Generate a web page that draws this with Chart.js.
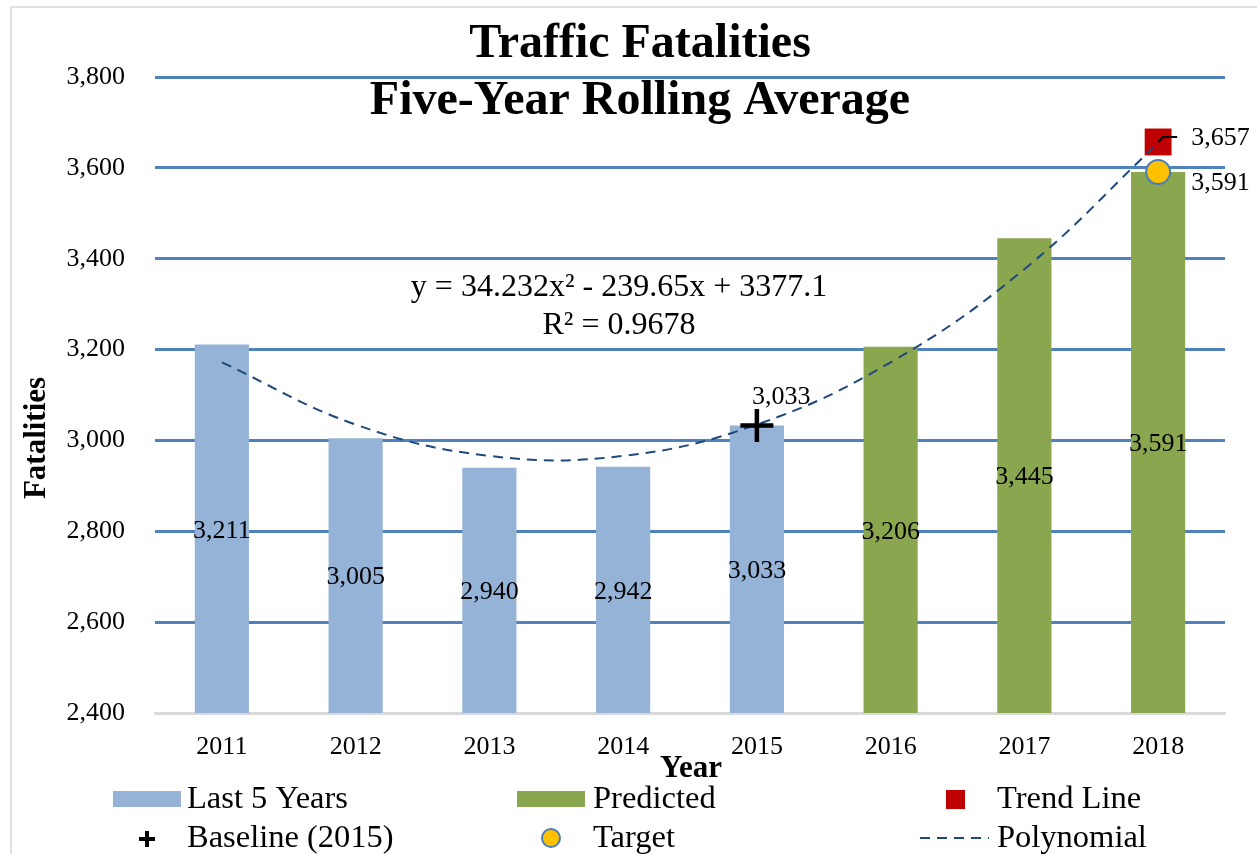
<!DOCTYPE html>
<html>
<head>
<meta charset="utf-8">
<script src="https://cdn.jsdelivr.net/npm/chart.js"></script>
<style>
  body { margin: 0; background: #fff; }
  canvas { display: block; }
</style>
</head>
<body>
<canvas id="chart" width="1257" height="854"></canvas>
<script>
// values
const years = ['2011', '2012', '2013', '2014', '2015', '2016', '2017', '2018'];
const last5Years = [3211, 3005, 2940, 2942, 3033, null, null, null];
const predicted = [null, null, null, null, null, 3206, 3445, 3591];
const polynomial = [3172, 3035, 2966, 2966, 3035, 3172, 3377, 3655];
const baseline = [null, null, null, null, 3033, null, null, null];
const target = [null, null, null, null, null, null, null, 3591];
const trendLine = [null, null, null, null, null, null, null, 3657];
const yTicks = [2400, 2600, 2800, 3000, 3200, 3400, 3600, 3800];
const titleLines = ['Traffic Fatalities', 'Five-Year Rolling Average'];
const equationLines = ['y = 34.232x² - 239.65x + 3377.1', 'R² = 0.9678'];

const SERIF = '"Liberation Serif", "Times New Roman", serif';
const fmt = v => v.toLocaleString('en-US');

// white background + thin outer frame
const framePlugin = {
  id: 'frame',
  beforeDraw(chart) {
    const ctx = chart.ctx;
    ctx.save();
    ctx.fillStyle = '#fff';
    ctx.fillRect(0, 0, chart.width, chart.height);
    ctx.strokeStyle = '#d9d9d9';
    ctx.lineWidth = 1.5;
    ctx.strokeRect(11, 7, chart.width + 20, chart.height + 20);
    ctx.restore();
  }
};

// value labels in the middle of each bar, plus the marker labels
const labelPlugin = {
  id: 'labels',
  afterDatasetsDraw(chart) {
    const ctx = chart.ctx;
    const xs = chart.scales.x, ys = chart.scales.y;
    const basePx = ys.getPixelForValue(yTicks[0]);
    ctx.save();
    ctx.fillStyle = '#000';
    ctx.font = '26px ' + SERIF;
    ctx.textAlign = 'center';
    ctx.textBaseline = 'middle';
    [last5Years, predicted].forEach(arr => {
      arr.forEach((v, j) => {
        if (v == null) return;
        const x = xs.getPixelForValue(j);
        const y = (ys.getPixelForValue(v) + basePx) / 2;
        ctx.fillText(fmt(v), x, y + 2);
      });
    });

    // baseline label above the cross
    const bIdx = baseline.findIndex(v => v != null);
    const bx = xs.getPixelForValue(bIdx), by = ys.getPixelForValue(baseline[bIdx]);
    ctx.textAlign = 'left';
    ctx.fillText(fmt(baseline[bIdx]), bx - 5, by - 28);

    // trend line label with its leader line
    const tIdx = trendLine.findIndex(v => v != null);
    const tx = xs.getPixelForValue(tIdx), ty = ys.getPixelForValue(trendLine[tIdx]);
    ctx.strokeStyle = '#000';
    ctx.lineWidth = 2;
    ctx.beginPath();
    ctx.moveTo(tx, ty);
    ctx.lineTo(tx + 5, ty - 5);
    ctx.lineTo(tx + 19, ty - 5);
    ctx.stroke();
    ctx.fillText(fmt(trendLine[tIdx]), tx + 33, ty - 4);

    const gIdx = target.findIndex(v => v != null);
    const gx = xs.getPixelForValue(gIdx), gy = ys.getPixelForValue(target[gIdx]);
    ctx.fillText(fmt(target[gIdx]), gx + 33, gy + 11);
    ctx.restore();
  }
};

// title, equation, axis titles and legend
const textPlugin = {
  id: 'texts',
  afterDraw(chart) {
    const ctx = chart.ctx;
    const area = chart.chartArea;
    ctx.save();
    ctx.fillStyle = '#000';
    ctx.textBaseline = 'middle';
    ctx.textAlign = 'center';

    ctx.font = 'bold 48px ' + SERIF;
    ctx.fillText(titleLines[0], 640, 45);
    ctx.fillText(titleLines[1], 640, 102);

    ctx.font = '32px ' + SERIF;
    ctx.fillText(equationLines[0], 619, 288);
    ctx.fillText(equationLines[1], 619, 326);

    ctx.font = 'bold 31px ' + SERIF;
    ctx.fillText('Year', (area.left + area.right) / 2 + 1, 769);
    ctx.save();
    ctx.translate(37, 438);
    ctx.rotate(-Math.PI / 2);
    ctx.fillText('Fatalities', 0, 0);
    ctx.restore();

    // legend
    const ds = chart.data.datasets;
    const byLabel = l => ds.find(d => d.label === l);
    const row1 = 799, row2 = 838;
    ctx.font = '32.5px ' + SERIF;
    ctx.textAlign = 'left';

    let d = byLabel('Last 5 Years');
    ctx.fillStyle = d.backgroundColor;
    ctx.fillRect(113, 791, 68, 16);
    ctx.fillStyle = '#000';
    ctx.fillText(d.label, 187, row1);

    d = byLabel('Predicted');
    ctx.fillStyle = d.backgroundColor;
    ctx.fillRect(517, 791, 68, 16);
    ctx.fillStyle = '#000';
    ctx.fillText(d.label, 593, row1);

    d = byLabel('Trend Line');
    ctx.fillStyle = d.backgroundColor;
    ctx.fillRect(946, 790, 19, 19);
    ctx.fillStyle = '#000';
    ctx.fillText(d.label, 997, row1);

    d = byLabel('Baseline (2015)');
    ctx.strokeStyle = '#000';
    ctx.lineWidth = 4;
    ctx.beginPath();
    ctx.moveTo(139, 839); ctx.lineTo(155, 839);
    ctx.moveTo(147, 831); ctx.lineTo(147, 847);
    ctx.stroke();
    ctx.fillText(d.label, 187, row2);

    d = byLabel('Target');
    ctx.fillStyle = d.backgroundColor;
    ctx.strokeStyle = d.borderColor;
    ctx.lineWidth = 2;
    ctx.beginPath();
    ctx.arc(551, 838, 9, 0, Math.PI * 2);
    ctx.fill();
    ctx.stroke();
    ctx.fillStyle = '#000';
    ctx.fillText(d.label, 593, row2);

    d = byLabel('Polynomial');
    ctx.strokeStyle = d.borderColor;
    ctx.lineWidth = 2;
    ctx.setLineDash([10, 7]);
    ctx.beginPath();
    ctx.moveTo(920, 838); ctx.lineTo(989, 838);
    ctx.stroke();
    ctx.setLineDash([]);
    ctx.fillText(d.label, 997, row2);
    ctx.restore();
  }
};

new Chart(document.getElementById('chart'), {
  data: {
    labels: years,
    datasets: [
      {
        type: 'line', label: 'Baseline (2015)', data: baseline, order: 0,
        showLine: false, pointStyle: 'cross', pointRadius: 16.5,
        borderColor: '#000', pointBorderWidth: 4.5, backgroundColor: '#000'
      },
      {
        type: 'line', label: 'Trend Line', data: trendLine, order: 2,
        showLine: false, pointStyle: 'rect', pointRadius: 19,
        backgroundColor: '#C00000', borderColor: '#C00000', pointBorderWidth: 0
      },
      {
        type: 'line', label: 'Target', data: target, order: 0,
        showLine: false, pointStyle: 'circle', pointRadius: 12,
        backgroundColor: '#FFC000', borderColor: '#4A7EBB', pointBorderWidth: 2
      },
      {
        type: 'line', label: 'Polynomial', data: polynomial, order: 1,
        borderColor: '#1F497D', borderWidth: 2, borderDash: [10, 7],
        pointRadius: 0, tension: 0.4, fill: false
      },
      {
        type: 'bar', label: 'Last 5 Years', data: last5Years, order: 3,
        backgroundColor: '#95B3D7', barPercentage: 0.405, categoryPercentage: 1
      },
      {
        type: 'bar', label: 'Predicted', data: predicted, order: 3,
        backgroundColor: '#8AA64E', barPercentage: 0.405, categoryPercentage: 1
      }
    ]
  },
  options: {
    responsive: false,
    animation: false,
    layout: { padding: { top: 77, right: 32, left: 0, bottom: 0 } },
    plugins: {
      legend: { display: false },
      tooltip: { enabled: false },
      title: { display: false }
    },
    scales: {
      x: {
        stacked: true,
        grid: { display: false, drawTicks: false },
        border: { display: true, color: '#d9d9d9', width: 2 },
        ticks: { color: '#000', font: { family: SERIF, size: 26 }, padding: 19, maxRotation: 0 },
        afterFit(scale) { scale.height = 141; }
      },
      y: {
        min: yTicks[0],
        max: yTicks[yTicks.length - 1],
        afterBuildTicks(scale) { scale.ticks = yTicks.map(v => ({ value: v })); },
        grid: {
          color: c => (c.tick && c.tick.value === yTicks[0]) ? '#d9d9d9' : '#4F81BD',
          lineWidth: 3,
          drawTicks: false
        },
        border: { display: false },
        ticks: {
          color: '#000', font: { family: SERIF, size: 26 }, padding: 30,
          callback: v => fmt(v)
        },
        afterFit(scale) { scale.width = 155; }
      }
    }
  },
  plugins: [framePlugin, labelPlugin, textPlugin]
});
</script>
</body>
</html>
